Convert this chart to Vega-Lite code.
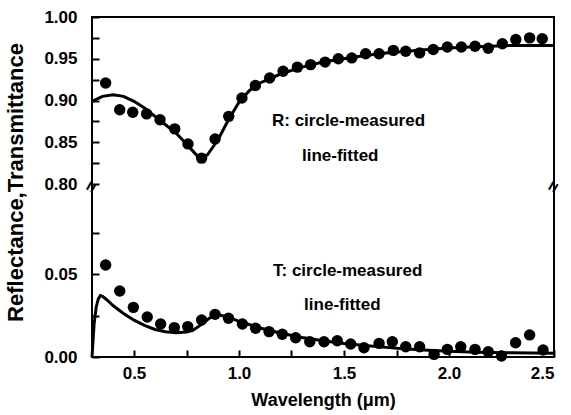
{
  "$schema": "https://vega.github.io/schema/vega-lite/v6.json",
  "padding": {"left": 4, "top": 8, "right": 10, "bottom": 5},
  "background": "white",
  "width": 462,
  "height": 340,
  "config": {
    "view": {"stroke": "black", "strokeWidth": 2},
    "font": "Liberation Sans",
    "axis": {
      "domainColor": "black", "domainWidth": 2, "tickColor": "black", "tickWidth": 2,
      "labelFont": "Liberation Sans", "labelFontWeight": "bold", "labelFontSize": 17, "labelColor": "black",
      "titleFont": "Liberation Sans", "titleFontWeight": "bold", "titleColor": "black", "grid": false
    }
  },
  "datasets": {
    "Rm": [
      {"w":0.365,"v":0.921},{"w":0.432,"v":0.889},{"w":0.494,"v":0.886},{"w":0.560,"v":0.884},{"w":0.624,"v":0.877},{"w":0.694,"v":0.866},{"w":0.757,"v":0.848},{"w":0.822,"v":0.831},{"w":0.886,"v":0.854},{"w":0.951,"v":0.881},{"w":1.014,"v":0.903},{"w":1.078,"v":0.918},{"w":1.146,"v":0.927},{"w":1.21,"v":0.935},{"w":1.278,"v":0.940},{"w":1.341,"v":0.943},{"w":1.41,"v":0.946},{"w":1.473,"v":0.950},{"w":1.537,"v":0.951},{"w":1.603,"v":0.956},{"w":1.667,"v":0.956},{"w":1.735,"v":0.960},{"w":1.794,"v":0.959},{"w":1.86,"v":0.957},{"w":1.925,"v":0.961},{"w":1.992,"v":0.964},{"w":2.059,"v":0.964},{"w":2.124,"v":0.965},{"w":2.187,"v":0.9625},{"w":2.254,"v":0.968},{"w":2.318,"v":0.973},{"w":2.384,"v":0.975},{"w":2.444,"v":0.974}
    ],
    "Rf": [
      {"w":0.30,"v":0.899},{"w":0.35,"v":0.905},{"w":0.40,"v":0.907},{"w":0.45,"v":0.905},{"w":0.50,"v":0.899},{"w":0.55,"v":0.891},{"w":0.60,"v":0.881},{"w":0.65,"v":0.871},{"w":0.70,"v":0.861},{"w":0.75,"v":0.848},{"w":0.80,"v":0.834},{"w":0.82,"v":0.830},{"w":0.85,"v":0.835},{"w":0.90,"v":0.853},{"w":0.95,"v":0.877},{"w":1.00,"v":0.898},{"w":1.05,"v":0.912},{"w":1.10,"v":0.921},{"w":1.20,"v":0.932},{"w":1.30,"v":0.940},{"w":1.40,"v":0.946},{"w":1.50,"v":0.950},{"w":1.60,"v":0.954},{"w":1.70,"v":0.957},{"w":1.80,"v":0.959},{"w":1.90,"v":0.961},{"w":2.00,"v":0.963},{"w":2.10,"v":0.964},{"w":2.20,"v":0.965},{"w":2.30,"v":0.966},{"w":2.40,"v":0.966},{"w":2.50,"v":0.966}
    ],
    "Tm": [
      {"w":0.365,"v":0.0554},{"w":0.432,"v":0.0398},{"w":0.497,"v":0.0299},{"w":0.563,"v":0.0241},{"w":0.627,"v":0.0199},{"w":0.692,"v":0.0177},{"w":0.756,"v":0.0183},{"w":0.822,"v":0.0223},{"w":0.886,"v":0.0257},{"w":0.95,"v":0.0233},{"w":1.016,"v":0.0199},{"w":1.079,"v":0.0173},{"w":1.143,"v":0.0153},{"w":1.206,"v":0.0137},{"w":1.27,"v":0.0116},{"w":1.337,"v":0.0092},{"w":1.405,"v":0.0092},{"w":1.468,"v":0.0098},{"w":1.532,"v":0.0078},{"w":1.595,"v":0.0056},{"w":1.667,"v":0.0082},{"w":1.73,"v":0.0092},{"w":1.794,"v":0.0062},{"w":1.86,"v":0.0062},{"w":1.929,"v":0.0016},{"w":1.992,"v":0.0046},{"w":2.056,"v":0.0062},{"w":2.124,"v":0.0046},{"w":2.187,"v":0.0032},{"w":2.25,"v":0.0006},{"w":2.317,"v":0.0086},{"w":2.384,"v":0.0133},{"w":2.448,"v":0.0042}
    ],
    "Tf": [
      {"w":0.30,"v":0.000},{"w":0.305,"v":0.010},{"w":0.31,"v":0.020},{"w":0.32,"v":0.030},{"w":0.33,"v":0.035},{"w":0.34,"v":0.037},{"w":0.35,"v":0.0365},{"w":0.37,"v":0.0345},{"w":0.40,"v":0.0310},{"w":0.45,"v":0.0262},{"w":0.50,"v":0.0222},{"w":0.55,"v":0.0190},{"w":0.60,"v":0.0166},{"w":0.65,"v":0.0152},{"w":0.70,"v":0.0146},{"w":0.75,"v":0.0150},{"w":0.78,"v":0.0160},{"w":0.82,"v":0.0195},{"w":0.86,"v":0.0235},{"w":0.90,"v":0.0255},{"w":0.95,"v":0.0240},{"w":1.00,"v":0.0215},{"w":1.10,"v":0.0175},{"w":1.20,"v":0.0143},{"w":1.30,"v":0.0118},{"w":1.40,"v":0.0098},{"w":1.50,"v":0.0082},{"w":1.60,"v":0.0069},{"w":1.70,"v":0.0058},{"w":1.80,"v":0.0048},{"w":1.90,"v":0.0040},{"w":2.00,"v":0.0034},{"w":2.10,"v":0.0030},{"w":2.20,"v":0.0027},{"w":2.30,"v":0.0025},{"w":2.40,"v":0.0024},{"w":2.50,"v":0.0023}
    ],
    "labs": [
      {"w":1.157,"v":0.8755,"t":"R: circle-measured"},{"w":1.30,"v":0.8335,"t":"line-fitted"},
      {"w":1.162,"v":0.0518,"t":"T: circle-measured"},{"w":1.31,"v":0.0313,"t":"line-fitted"}
    ],
    "brk": [{"w":0.3,"v":0.45},{"w":2.5,"v":0.45}]
  },
  "encoding": {
    "x": {"field": "w", "type": "quantitative", "scale": {"domain": [0.3, 2.5], "nice": false, "zero": false}, "axis": {
          "values": [0.5,0.75,1.0,1.25,1.5,1.75,2.0,2.25,2.5],
          "labelExpr": "(round(datum.value*100)%50===0) ? format(datum.value,'.1f') : ''",
          "domain": false,
          "offset": -7,
          "tickSize": 7,
          "labelPadding": 8,
          "title": "Wavelength (μm)", "titleFontSize": 18, "titlePadding": 10
        }},
    "y": {"field": "v", "type": "quantitative", "scale": {"type": "linear", "domain": [0, 0.1, 0.8, 1.0], "range": [340, 174, 167, 0], "nice": false, "zero": false}, "axis": {
          "values": [0, 0.025, 0.05, 0.075, 0.8, 0.825, 0.85, 0.875, 0.9, 0.925, 0.95, 0.975, 1.0],
          "labelExpr": "(round(datum.value*1000)%50===0) ? format(datum.value,'.2f') : ''",
          "domain": false,
          "offset": -7,
          "tickSize": 7,
          "labelPadding": 15,
          "title": "Reflectance,Transmittance", "titleFontSize": 22, "titleAngle": 270,
          "titleX": -77, "titleY": 165, "titleAlign": "center", "titleBaseline": "alphabetic"
        }}
  },
  "layer": [
    {"data": {"name": "Rf"}, "mark": {"type": "line", "color": "black", "strokeWidth": 3}},
    {"data": {"name": "Tf"}, "mark": {"type": "line", "color": "black", "strokeWidth": 3}},
    {"data": {"name": "Rm"}, "mark": {"type": "circle", "color": "black", "opacity": 1, "size": 130}},
    {"data": {"name": "Tm"}, "mark": {"type": "circle", "color": "black", "opacity": 1, "size": 130}},
    {
      "data": {"name": "labs"},
      "mark": {"type": "text", "align": "left", "baseline": "middle", "fontSize": 17, "fontWeight": "bold", "font": "Liberation Sans", "color": "black"},
      "encoding": {"text": {"field": "t"}}
    },
    {
      "data": {"name": "brk"},
      "mark": {"type": "text", "text": "=", "fontSize": 18, "fontWeight": "bold", "angle": 300, "color": "black", "align": "center", "baseline": "middle"},
      "encoding": {}
    }
  ]
}
